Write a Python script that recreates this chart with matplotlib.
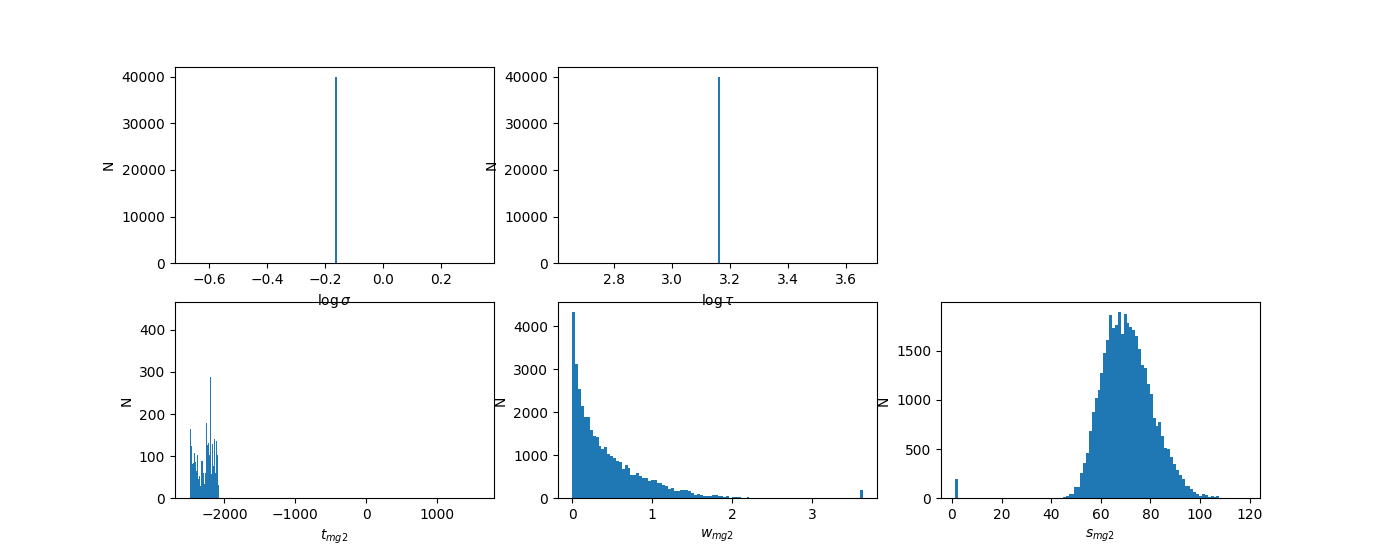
import numpy as np
import matplotlib
matplotlib.use("Agg")
from matplotlib import pyplot as plt

# single-valued parameters (all 40000 samples identical)
n_samples = 40000
log_sigma = -0.168
log_tau = 3.158

# t_mg2 : narrow bins, only the first ones filled
t_min, t_max = -2492.0, 1600.0
t_nbins = 290
t_counts = [165, 125, 81, 83, 107, 86, 65, 103, 46, 53,
            30, 89, 89, 60, 33, 60, 179, 127, 131, 102,
            289, 59, 128, 77, 141, 60, 137, 103, 32]
t_ymax = 465

# w_mg2 : 100 bins between w_min and w_max
w_min, w_max = 0.0, 3.63
w_counts = [4342, 3130, 2548, 2151, 1895, 1895, 1592, 1452, 1429, 1219,
            1150, 1196, 1033, 986, 940, 870, 847, 683, 777, 707,
            544, 544, 590, 520, 474, 474, 404, 427, 427, 357,
            357, 311, 287, 217, 241, 171, 171, 194, 194, 194,
            171, 132, 78, 101, 78, 54, 54, 54, 78, 78,
            54, 54, 31, 54, 15, 31, 31, 31, 15, 15,
            31, 0, 0, 0, 0, 0, 0, 0, 0, 0,
            0, 0, 0, 0, 0, 0, 0, 0, 0, 0,
            0, 0, 0, 0, 0, 0, 0, 0, 0, 0,
            0, 0, 0, 0, 0, 0, 0, 0, 0, 200]

# s_mg2 : 100 bins between s_min and s_max
s_min, s_max = 1.4, 118.3
s_counts = [197, 0, 0, 0, 0, 0, 0, 0, 0, 0,
            0, 0, 0, 0, 0, 0, 0, 0, 0, 0,
            0, 0, 0, 0, 0, 0, 0, 0, 0, 0,
            0, 0, 0, 0, 0, 0, 0, 17, 27, 47,
            47, 115, 115, 258, 360, 461, 685, 879, 1021, 1106,
            1276, 1479, 1612, 1866, 1734, 1764, 1897, 1673, 1876, 1785,
            1744, 1714, 1653, 1520, 1357, 1327, 1164, 1062, 818, 736,
            777, 635, 512, 502, 421, 350, 288, 238, 197, 126,
            126, 95, 64, 44, 24, 44, 34, 14, 24, 14,
            24, 0, 0, 0, 0, 0, 0, 0, 0, 0]


def hist_from_counts(ax, lo, hi, nbins, counts):
    edges = np.linspace(lo, hi, nbins + 1)
    centers = 0.5 * (edges[:-1] + edges[1:])
    ax.hist(centers[:len(counts)], bins=edges, weights=counts)


fig, axes = plt.subplots(2, 3, figsize=(14, 5.6), dpi=100)

ax = axes[0, 0]
ax.hist([log_sigma], bins=100, weights=[n_samples])
ax.set_xlabel(r'$\log\sigma$')
ax.set_ylabel('N')
ax.set_zorder(2)

ax = axes[0, 1]
ax.hist([log_tau], bins=100, weights=[n_samples])
ax.set_xlabel(r'$\log\tau$')
ax.set_ylabel('N')
ax.set_zorder(2)

axes[0, 2].axis('off')

ax = axes[1, 0]
hist_from_counts(ax, t_min, t_max, t_nbins, t_counts)
ax.set_ylim(0, t_ymax)
ax.set_xlabel(r'$t_{mg2}$')
ax.set_ylabel('N')

ax = axes[1, 1]
hist_from_counts(ax, w_min, w_max, 100, w_counts)
ax.set_xlabel(r'$w_{mg2}$')
ax.set_ylabel('N')

ax = axes[1, 2]
hist_from_counts(ax, s_min, s_max, 100, s_counts)
ax.set_xlabel(r'$s_{mg2}$')
ax.set_ylabel('N')

plt.savefig('out.png')
